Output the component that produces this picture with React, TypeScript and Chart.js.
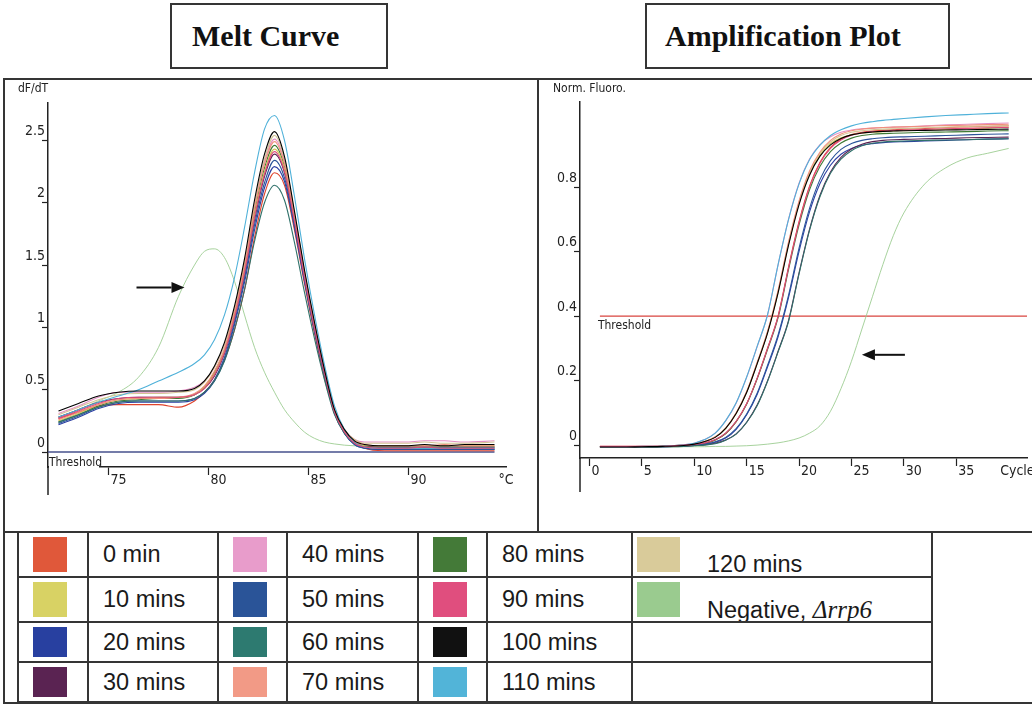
import React, { useEffect, useRef } from 'react';
import { Chart, registerables } from 'chart.js';

Chart.register(...registerables);

const NARROW = "'Liberation Sans Narrow', 'Arial Narrow', 'DejaVu Sans Condensed', 'Liberation Sans', sans-serif";
const SANS = "'Liberation Sans', Arial, sans-serif";
const SERIF = "'Liberation Serif', 'Times New Roman', serif";

// ---------- series ----------
const SERIES_LABELS = ['0 min', '10 mins', '20 mins', '30 mins', '40 mins', '50 mins', '60 mins', '70 mins', '80 mins', '90 mins', '100 mins', '110 mins', '120 mins', 'Negative, Δrrp6'];
const SERIES_COLORS = ['#e0442c', '#cfc655', '#2b3fa3', '#5b2352', '#e58fc4', '#2b549a', '#2f716a', '#f08f7b', '#3f7a35', '#df4a7c', '#000000', '#4fb1d9', '#d4c494', '#9dcd92'];
const SWATCH_COLORS = ['#e0583a', '#d8d264', '#2840a0', '#5a2352', '#e89ccb', '#2a5498', '#2d7a70', '#f29a86', '#447a38', '#e04e7e', '#111111', '#52b4d8', '#d9cb9a', '#9acb8f'];
const DRAW_ORDER = [10, 6, 8, 7, 3, 5, 4, 2, 9, 1, 0, 1, 2, 20];

// ---------- melt curve (dF/dT vs °C) ----------
const MELT_TEMPS = [72.5, 73.5, 74.5, 75.5, 76.5, 77.5, 78.5, 79.3, 79.8, 80.3, 80.8, 81.3, 81.8, 82.3, 82.8, 83.3, 83.8, 84.3, 84.8, 85.3, 85.8, 86.3, 86.8, 87.3, 87.8, 88.8, 89.8, 90.8, 91.8, 92.8, 94.3];
const MELT_0 = [0.27, 0.32, 0.37, 0.38, 0.38, 0.38, 0.36, 0.41, 0.48, 0.58, 0.74, 0.98, 1.30, 1.72, 2.07, 2.24, 2.14, 1.78, 1.35, 0.95, 0.59, 0.33, 0.17, 0.08, 0.03, 0.01, 0.01, 0.01, 0.01, 0.01, 0.01];
const MELT_10 = [0.25, 0.31, 0.38, 0.42, 0.43, 0.44, 0.44, 0.46, 0.52, 0.63, 0.81, 1.09, 1.45, 1.90, 2.25, 2.43, 2.27, 1.86, 1.41, 1.00, 0.64, 0.33, 0.17, 0.08, 0.05, 0.05, 0.05, 0.05, 0.05, 0.05, 0.05];
const MELT_20 = [0.22, 0.28, 0.35, 0.39, 0.40, 0.40, 0.40, 0.42, 0.47, 0.57, 0.74, 1.02, 1.36, 1.78, 2.12, 2.29, 2.17, 1.80, 1.37, 0.97, 0.62, 0.31, 0.15, 0.06, 0.03, 0.02, 0.02, 0.02, 0.02, 0.02, 0.02];
const MELT_30 = [0.28, 0.34, 0.40, 0.43, 0.44, 0.44, 0.44, 0.46, 0.51, 0.61, 0.79, 1.07, 1.42, 1.86, 2.21, 2.39, 2.24, 1.84, 1.40, 0.99, 0.63, 0.32, 0.16, 0.07, 0.05, 0.04, 0.04, 0.04, 0.04, 0.04, 0.04];
const MELT_40 = [0.31, 0.37, 0.44, 0.48, 0.48, 0.48, 0.49, 0.52, 0.57, 0.68, 0.86, 1.14, 1.51, 1.97, 2.33, 2.51, 2.33, 1.90, 1.44, 1.03, 0.66, 0.34, 0.18, 0.10, 0.08, 0.08, 0.08, 0.09, 0.09, 0.08, 0.09];
const MELT_50 = [0.23, 0.29, 0.36, 0.40, 0.41, 0.41, 0.41, 0.43, 0.48, 0.58, 0.76, 1.04, 1.39, 1.82, 2.16, 2.34, 2.20, 1.82, 1.38, 0.98, 0.62, 0.31, 0.15, 0.06, 0.03, 0.02, 0.02, 0.02, 0.02, 0.02, 0.02];
const MELT_60 = [0.24, 0.30, 0.36, 0.40, 0.41, 0.41, 0.41, 0.43, 0.48, 0.57, 0.73, 0.98, 1.30, 1.69, 2.00, 2.14, 2.02, 1.68, 1.28, 0.91, 0.58, 0.30, 0.15, 0.07, 0.04, 0.03, 0.03, 0.03, 0.03, 0.03, 0.03];
const MELT_70 = [0.26, 0.32, 0.38, 0.42, 0.43, 0.43, 0.44, 0.47, 0.53, 0.65, 0.83, 1.12, 1.49, 1.95, 2.31, 2.49, 2.31, 1.89, 1.43, 1.02, 0.65, 0.33, 0.17, 0.09, 0.06, 0.05, 0.05, 0.05, 0.06, 0.05, 0.05];
const MELT_80 = [0.24, 0.30, 0.37, 0.41, 0.42, 0.43, 0.43, 0.46, 0.52, 0.64, 0.82, 1.10, 1.47, 1.92, 2.28, 2.46, 2.29, 1.88, 1.42, 1.01, 0.64, 0.33, 0.17, 0.08, 0.05, 0.04, 0.04, 0.04, 0.04, 0.04, 0.04];
const MELT_90 = [0.27, 0.33, 0.39, 0.43, 0.44, 0.44, 0.44, 0.46, 0.51, 0.62, 0.80, 1.08, 1.44, 1.88, 2.23, 2.41, 2.25, 1.85, 1.40, 0.99, 0.63, 0.32, 0.16, 0.07, 0.04, 0.03, 0.03, 0.04, 0.03, 0.03, 0.03];
const MELT_100 = [0.33, 0.39, 0.45, 0.48, 0.49, 0.49, 0.49, 0.51, 0.57, 0.69, 0.88, 1.17, 1.55, 2.02, 2.39, 2.57, 2.37, 1.93, 1.46, 1.04, 0.66, 0.34, 0.18, 0.09, 0.06, 0.05, 0.05, 0.06, 0.05, 0.06, 0.06];
const MELT_110 = [0.28, 0.34, 0.40, 0.45, 0.50, 0.57, 0.64, 0.71, 0.78, 0.90, 1.10, 1.40, 1.80, 2.24, 2.59, 2.70, 2.50, 2.05, 1.55, 1.10, 0.70, 0.37, 0.18, 0.08, 0.04, 0.03, 0.03, 0.03, 0.03, 0.03, 0.03];
const MELT_120 = [0.30, 0.36, 0.42, 0.46, 0.47, 0.47, 0.48, 0.50, 0.56, 0.68, 0.86, 1.14, 1.52, 1.98, 2.35, 2.54, 2.35, 1.92, 1.45, 1.03, 0.66, 0.34, 0.18, 0.10, 0.07, 0.07, 0.07, 0.08, 0.07, 0.07, 0.08];
const MELT_NEG = [0.28, 0.34, 0.41, 0.48, 0.60, 0.84, 1.25, 1.50, 1.61, 1.63, 1.56, 1.37, 1.10, 0.84, 0.64, 0.48, 0.34, 0.24, 0.16, 0.11, 0.08, 0.065, 0.055, 0.05, 0.045, 0.04, 0.04, 0.04, 0.04, 0.04, 0.04];
const MELT_SERIES = [MELT_0, MELT_10, MELT_20, MELT_30, MELT_40, MELT_50, MELT_60, MELT_70, MELT_80, MELT_90, MELT_100, MELT_110, MELT_120, MELT_NEG];

const MELT_X_MIN = 71.975;
const MELT_X_MAX = 94.875;
const MELT_Y_MIN = -0.12;
const MELT_Y_MAX = 2.8;
const MELT_X_TICKS = [75, 80, 85, 90];
const MELT_X_UNIT_AT = 94.4;
const MELT_X_UNIT = '°C';
const MELT_Y_TICKS = [0, 0.5, 1, 1.5, 2, 2.5];
const MELT_THRESHOLD = 0;
const MELT_THRESHOLD_SPAN = [71.975, 94.3];
const MELT_ARROW = { from: [76.4, 1.32], to: [78.8, 1.32] };

// ---------- amplification plot (Norm. Fluoro. vs Cycle) ----------
const AMP_CYCLES = [1, 3, 5, 7, 9, 10, 11, 12, 13, 14, 15, 16, 17, 18, 19, 20, 21, 22, 23, 24, 25, 26, 27, 28, 29, 30, 32, 34, 36, 38, 40];
const AMP_0 = [-0.006, -0.006, -0.005, -0.004, -0.002, 0.0, 0.005, 0.016, 0.036, 0.073, 0.128, 0.207, 0.301, 0.4, 0.553, 0.693, 0.803, 0.877, 0.923, 0.949, 0.963, 0.97, 0.974, 0.976, 0.978, 0.98, 0.982, 0.985, 0.987, 0.989, 0.99];
const AMP_10 = [-0.005, -0.005, -0.005, -0.004, 0.0, 0.003, 0.011, 0.025, 0.052, 0.098, 0.164, 0.253, 0.35, 0.474, 0.623, 0.749, 0.841, 0.9, 0.935, 0.953, 0.962, 0.967, 0.97, 0.972, 0.974, 0.975, 0.977, 0.979, 0.981, 0.983, 0.985];
const AMP_20 = [-0.006, -0.006, -0.006, -0.005, -0.003, -0.001, 0.002, 0.009, 0.022, 0.049, 0.094, 0.157, 0.243, 0.336, 0.458, 0.601, 0.723, 0.811, 0.868, 0.902, 0.92, 0.93, 0.935, 0.938, 0.94, 0.941, 0.943, 0.945, 0.947, 0.949, 0.95];
const AMP_30 = [-0.005, -0.005, -0.005, -0.005, -0.003, -0.001, 0.001, 0.006, 0.016, 0.035, 0.071, 0.124, 0.2, 0.291, 0.387, 0.534, 0.669, 0.775, 0.847, 0.892, 0.918, 0.933, 0.941, 0.945, 0.947, 0.948, 0.95, 0.951, 0.953, 0.954, 0.955];
const AMP_40 = [-0.005, -0.005, -0.004, -0.003, 0.001, 0.006, 0.017, 0.037, 0.075, 0.13, 0.21, 0.305, 0.405, 0.559, 0.701, 0.812, 0.887, 0.932, 0.956, 0.97, 0.977, 0.981, 0.983, 0.985, 0.986, 0.987, 0.99, 0.993, 0.995, 0.997, 0.999];
const AMP_50 = [-0.005, -0.005, -0.005, -0.005, -0.002, 0.0, 0.003, 0.01, 0.024, 0.051, 0.096, 0.161, 0.248, 0.342, 0.465, 0.611, 0.734, 0.824, 0.882, 0.917, 0.935, 0.945, 0.95, 0.953, 0.955, 0.956, 0.958, 0.96, 0.962, 0.964, 0.965];
const AMP_60 = [-0.006, -0.006, -0.006, -0.005, -0.004, -0.002, 0.0, 0.004, 0.015, 0.034, 0.07, 0.122, 0.198, 0.289, 0.384, 0.531, 0.666, 0.771, 0.843, 0.887, 0.913, 0.928, 0.936, 0.94, 0.942, 0.943, 0.945, 0.946, 0.947, 0.949, 0.95];
const AMP_70 = [-0.004, -0.004, -0.004, -0.003, 0.0, 0.003, 0.011, 0.025, 0.053, 0.1, 0.166, 0.256, 0.353, 0.48, 0.63, 0.757, 0.85, 0.909, 0.945, 0.965, 0.975, 0.98, 0.983, 0.985, 0.986, 0.987, 0.989, 0.991, 0.992, 0.994, 0.995];
const AMP_80 = [-0.005, -0.005, -0.005, -0.004, -0.001, 0.001, 0.006, 0.016, 0.036, 0.073, 0.127, 0.205, 0.297, 0.395, 0.545, 0.683, 0.792, 0.865, 0.91, 0.937, 0.952, 0.96, 0.964, 0.966, 0.967, 0.968, 0.97, 0.971, 0.972, 0.974, 0.975];
const AMP_90 = [-0.004, -0.004, -0.004, -0.004, 0.0, 0.002, 0.007, 0.017, 0.037, 0.074, 0.128, 0.207, 0.3, 0.399, 0.55, 0.69, 0.8, 0.874, 0.92, 0.946, 0.961, 0.968, 0.972, 0.974, 0.976, 0.977, 0.979, 0.981, 0.982, 0.984, 0.985];
const AMP_100 = [-0.006, -0.006, -0.005, -0.004, -0.001, 0.003, 0.011, 0.024, 0.052, 0.098, 0.163, 0.252, 0.348, 0.472, 0.62, 0.746, 0.837, 0.896, 0.931, 0.951, 0.962, 0.968, 0.971, 0.973, 0.974, 0.975, 0.976, 0.977, 0.978, 0.979, 0.98];
const AMP_110 = [-0.005, -0.005, -0.004, -0.003, 0.001, 0.006, 0.017, 0.037, 0.076, 0.131, 0.211, 0.306, 0.405, 0.56, 0.7, 0.81, 0.885, 0.93, 0.96, 0.978, 0.99, 0.998, 1.003, 1.007, 1.01, 1.013, 1.018, 1.022, 1.025, 1.028, 1.03];
const AMP_120 = [-0.005, -0.005, -0.004, -0.003, 0.0, 0.003, 0.011, 0.025, 0.052, 0.099, 0.165, 0.254, 0.351, 0.477, 0.627, 0.753, 0.845, 0.905, 0.94, 0.96, 0.97, 0.975, 0.978, 0.98, 0.981, 0.982, 0.984, 0.986, 0.988, 0.989, 0.99];
const AMP_NEG = [-0.006, -0.006, -0.006, -0.006, -0.005, -0.005, -0.005, -0.004, -0.004, -0.003, -0.002, 0.0, 0.003, 0.007, 0.013, 0.022, 0.037, 0.06, 0.105, 0.175, 0.26, 0.36, 0.46, 0.56, 0.65, 0.72, 0.81, 0.86, 0.89, 0.905, 0.92];
const AMP_SERIES = [AMP_0, AMP_10, AMP_20, AMP_30, AMP_40, AMP_50, AMP_60, AMP_70, AMP_80, AMP_90, AMP_100, AMP_110, AMP_120, AMP_NEG];

const AMP_X_MIN = -0.9;
const AMP_X_MAX = 41.75;
const AMP_Y_MIN = -0.04;
const AMP_Y_MAX = 1.064;
const AMP_X_TICKS = [0, 5, 10, 15, 20, 25, 30, 35];
const AMP_X_UNIT_AT = 39.0;
const AMP_X_UNIT = 'Cycle';
const AMP_Y_TICKS = [0, 0.2, 0.4, 0.6, 0.8];
const AMP_THRESHOLD = 0.4;
const AMP_THRESHOLD_SPAN = [1, 41.75];
const AMP_ARROW = { from: [30.1, 0.28], to: [26.0, 0.28] };

// ---------- legend table layout ----------
const LEGEND_COL_X = [18, 88, 218, 287, 418, 487, 632, 932];
const LEGEND_ROW_Y = [532, 577, 622, 662, 702];
const LEGEND_GROUPS = [[0, 1, 2, 3], [4, 5, 6, 7], [8, 9, 10, 11], [12, 13]];

function drawArrow(ctx: CanvasRenderingContext2D, x1: number, y1: number, x2: number, y2: number) {
  const ang = Math.atan2(y2 - y1, x2 - x1);
  const head = 13;
  const hw = 5.5;
  const bx = x2 - head * Math.cos(ang);
  const by = y2 - head * Math.sin(ang);
  ctx.save();
  ctx.strokeStyle = '#111';
  ctx.fillStyle = '#111';
  ctx.lineWidth = 2;
  ctx.beginPath();
  ctx.moveTo(x1, y1);
  ctx.lineTo(bx, by);
  ctx.stroke();
  ctx.beginPath();
  ctx.moveTo(x2, y2);
  ctx.lineTo(bx - hw * Math.sin(ang), by + hw * Math.cos(ang));
  ctx.lineTo(bx + hw * Math.sin(ang), by - hw * Math.cos(ang));
  ctx.closePath();
  ctx.fill();
  ctx.restore();
}

function makeDecor(opts: { yLabel: string; yLabelX: number; ext: number; threshold: 'melt' | 'amp'; arrow: { from: number[]; to: number[] } }) {
  return {
    id: 'decor',
    afterDraw(chart: any) {
      const ctx = chart.ctx as CanvasRenderingContext2D;
      const { left, bottom } = chart.chartArea;
      const xs = chart.scales.x;
      const ys = chart.scales.y;
      ctx.save();
      // y axis extension below the x axis
      ctx.strokeStyle = '#222';
      ctx.lineWidth = 1.5;
      ctx.beginPath();
      ctx.moveTo(left, bottom);
      ctx.lineTo(left, bottom + opts.ext);
      ctx.stroke();
      // axis title
      ctx.fillStyle = '#222';
      ctx.font = `12px ${NARROW}`;
      ctx.textBaseline = 'middle';
      ctx.textAlign = 'left';
      ctx.fillText(opts.yLabel, opts.yLabelX, 9);
      // threshold label
      if (opts.threshold === 'melt') {
        ctx.fillStyle = '#ffffff';
        ctx.fillRect(left + 1, bottom - 2, 50, 4);
        ctx.fillStyle = '#222';
        ctx.textBaseline = 'alphabetic';
        ctx.fillText('Threshold', left + 1, bottom - 1);
      } else {
        ctx.textBaseline = 'top';
        ctx.fillText('Threshold', xs.getPixelForValue(AMP_THRESHOLD_SPAN[0]) - 2, ys.getPixelForValue(AMP_THRESHOLD) + 4);
      }
      ctx.restore();
      drawArrow(
        ctx,
        xs.getPixelForValue(opts.arrow.from[0]), ys.getPixelForValue(opts.arrow.from[1]),
        xs.getPixelForValue(opts.arrow.to[0]), ys.getPixelForValue(opts.arrow.to[1])
      );
    },
  };
}

function buildConfig(kind: 'melt' | 'amp') {
  const isMelt = kind === 'melt';
  const xVals = isMelt ? MELT_TEMPS : AMP_CYCLES;
  const series = isMelt ? MELT_SERIES : AMP_SERIES;
  const xTicks = isMelt ? MELT_X_TICKS : AMP_X_TICKS;
  const unitAt = isMelt ? MELT_X_UNIT_AT : AMP_X_UNIT_AT;
  const unit = isMelt ? MELT_X_UNIT : AMP_X_UNIT;
  const yTicks = isMelt ? MELT_Y_TICKS : AMP_Y_TICKS;
  const thr = isMelt ? MELT_THRESHOLD : AMP_THRESHOLD;
  const thrSpan = isMelt ? MELT_THRESHOLD_SPAN : AMP_THRESHOLD_SPAN;

  const datasets: any[] = series.map((vals, i) => ({
    label: SERIES_LABELS[i],
    data: vals.map((y, j) => ({ x: xVals[j], y })),
    borderColor: SERIES_COLORS[i],
    borderWidth: i === 13 ? 0.9 : 1.1,
    pointRadius: 0,
    fill: false,
    cubicInterpolationMode: 'monotone',
    order: DRAW_ORDER[i],
  }));
  datasets.push({
    label: 'Threshold',
    data: [{ x: thrSpan[0], y: thr }, { x: thrSpan[1], y: thr }],
    borderColor: isMelt ? '#46508c' : '#d9453f',
    borderWidth: isMelt ? 1.6 : 1.3,
    pointRadius: 0,
    fill: false,
    order: 30,
  });

  const tickFont = { family: NARROW, size: 14 };
  return {
    type: 'line',
    data: { datasets },
    options: {
      animation: false,
      responsive: false,
      maintainAspectRatio: false,
      events: [],
      layout: { padding: isMelt ? { left: 0, top: 23, right: 12, bottom: 0 } : { left: 0, top: 22, right: 5, bottom: 0 } },
      plugins: { legend: { display: false }, tooltip: { enabled: false } },
      scales: {
        x: {
          type: 'linear',
          min: isMelt ? MELT_X_MIN : AMP_X_MIN,
          max: isMelt ? MELT_X_MAX : AMP_X_MAX,
          afterBuildTicks: (s: any) => { s.ticks = [...xTicks, unitAt].map((v) => ({ value: v })); },
          afterFit: (s: any) => { s.height = isMelt ? 37 : 46; s.paddingLeft = 0; s.paddingRight = 0; },
          grid: {
            display: true,
            drawOnChartArea: false,
            drawTicks: true,
            tickLength: 8,
            tickWidth: 1.2,
            tickColor: (c: any) => (c.tick && c.tick.value === unitAt ? 'rgba(0,0,0,0)' : '#222'),
          },
          border: { display: true, color: '#222', width: 1.5 },
          ticks: {
            align: 'start',
            padding: -3,
            labelOffset: 2,
            autoSkip: false,
            maxRotation: 0,
            minRotation: 0,
            color: '#222',
            font: tickFont,
            callback: (v: any) => (v === unitAt ? unit : String(v)),
          },
        },
        y: {
          type: 'linear',
          min: isMelt ? MELT_Y_MIN : AMP_Y_MIN,
          max: isMelt ? MELT_Y_MAX : AMP_Y_MAX,
          afterBuildTicks: (s: any) => { s.ticks = yTicks.map((v) => ({ value: v })); },
          afterFit: (s: any) => { s.width = isMelt ? 40 : 38; s.paddingTop = 0; s.paddingBottom = 0; },
          grid: { display: true, drawOnChartArea: false, drawTicks: true, tickLength: 6, tickWidth: 1.2, tickColor: '#222' },
          border: { display: true, color: '#222', width: 1.5 },
          ticks: {
            align: 'end',
            padding: -3,
            labelOffset: -2,
            autoSkip: false,
            color: '#222',
            font: tickFont,
            callback: (v: any) => String(v),
          },
        },
      },
    },
    plugins: [
      makeDecor({
        yLabel: isMelt ? 'dF/dT' : 'Norm. Fluoro.',
        yLabelX: isMelt ? 10 : 11,
        ext: isMelt ? 28 : 34,
        threshold: kind,
        arrow: isMelt ? MELT_ARROW : AMP_ARROW,
      }),
    ],
  };
}

function ChartCanvas({ kind, left, top, width, height }: { kind: 'melt' | 'amp'; left: number; top: number; width: number; height: number }) {
  const ref = useRef<HTMLCanvasElement | null>(null);
  useEffect(() => {
    if (!ref.current) return;
    const chart = new Chart(ref.current, buildConfig(kind) as any);
    return () => chart.destroy();
  }, [kind]);
  return (
    <canvas
      ref={ref}
      width={width}
      height={height}
      style={{ position: 'absolute', left, top, width, height, display: 'block' }}
    />
  );
}

const LINE = '#353535';

function HLine({ x1, x2, y, w = 2 }: { x1: number; x2: number; y: number; w?: number }) {
  return <div style={{ position: 'absolute', left: x1, top: y - w / 2, width: x2 - x1, height: w, background: LINE }} />;
}
function VLine({ y1, y2, x, w = 2 }: { y1: number; y2: number; x: number; w?: number }) {
  return <div style={{ position: 'absolute', left: x - w / 2, top: y1, width: w, height: y2 - y1, background: LINE }} />;
}

function TitleBox({ text, left, width, padLeft }: { text: string; left: number; width: number; padLeft: number }) {
  return (
    <div
      style={{
        position: 'absolute', left, top: 3, width, height: 66, boxSizing: 'border-box',
        border: `2px solid ${LINE}`, display: 'flex', alignItems: 'center', paddingLeft: padLeft,
        fontFamily: SERIF, fontWeight: 'bold', fontSize: 30, color: '#111', whiteSpace: 'nowrap',
      }}
    >
      {text}
    </div>
  );
}

function Legend() {
  const items: React.ReactNode[] = [];
  LEGEND_GROUPS.forEach((group, g) => {
    group.forEach((si, r) => {
      const rowTop = LEGEND_ROW_Y[r];
      const rowH = LEGEND_ROW_Y[r + 1] - rowTop;
      const last = g === 3;
      const cellL = LEGEND_COL_X[2 * g];
      const sw = last ? 43 : 34;
      const swLeft = last ? cellL + 5 : cellL + 15;
      const labelLeft = last ? 707 : LEGEND_COL_X[2 * g + 1] + 15;
      items.push(
        <div key={`s${si}`} style={{ position: 'absolute', left: swLeft, top: rowTop + 5, width: sw, height: rowH - 10, background: SWATCH_COLORS[si] }} />
      );
      const label = SERIES_LABELS[si];
      const isNeg = si === 13;
      items.push(
        <div
          key={`l${si}`}
          style={{
            position: 'absolute', left: labelLeft, top: rowTop + (last ? 10 : 0), height: rowH, display: 'flex', alignItems: 'center',
            fontFamily: SANS, fontSize: 23.5, color: '#1a1a1a', whiteSpace: 'nowrap',
          }}
        >
          {isNeg ? (
            <span>
              Negative, <span style={{ fontFamily: SERIF, fontStyle: 'italic', fontSize: 25 }}>Δrrp6</span>
            </span>
          ) : (
            label
          )}
        </div>
      );
    });
  });
  const lines: React.ReactNode[] = [];
  LEGEND_ROW_Y.forEach((y, i) => lines.push(<HLine key={`h${i}`} x1={LEGEND_COL_X[0] - 1} x2={LEGEND_COL_X[7] + 1} y={y} />));
  LEGEND_COL_X.forEach((x, i) => lines.push(<VLine key={`v${i}`} x={x} y1={LEGEND_ROW_Y[0]} y2={LEGEND_ROW_Y[4]} />));
  return (
    <>
      {items}
      {lines}
    </>
  );
}

export default function App() {
  return (
    <div style={{ position: 'absolute', left: 0, top: 0, width: 1032, height: 705, overflow: 'hidden', background: '#fff' }}>
      <TitleBox text="Melt Curve" left={170} width={218} padLeft={20} />
      <TitleBox text="Amplification Plot" left={645} width={305} padLeft={18} />

      <HLine x1={3} x2={1032} y={79} />
      <VLine x={4} y1={78} y2={704} />
      <VLine x={538} y1={78} y2={532} />
      <HLine x1={3} x2={1032} y={532} />
      <HLine x1={3} x2={1032} y={703} />

      <ChartCanvas kind="melt" left={8} top={80} width={510} height={424} />
      <ChartCanvas kind="amp" left={542} top={80} width={490} height={424} />

      <Legend />
    </div>
  );
}
